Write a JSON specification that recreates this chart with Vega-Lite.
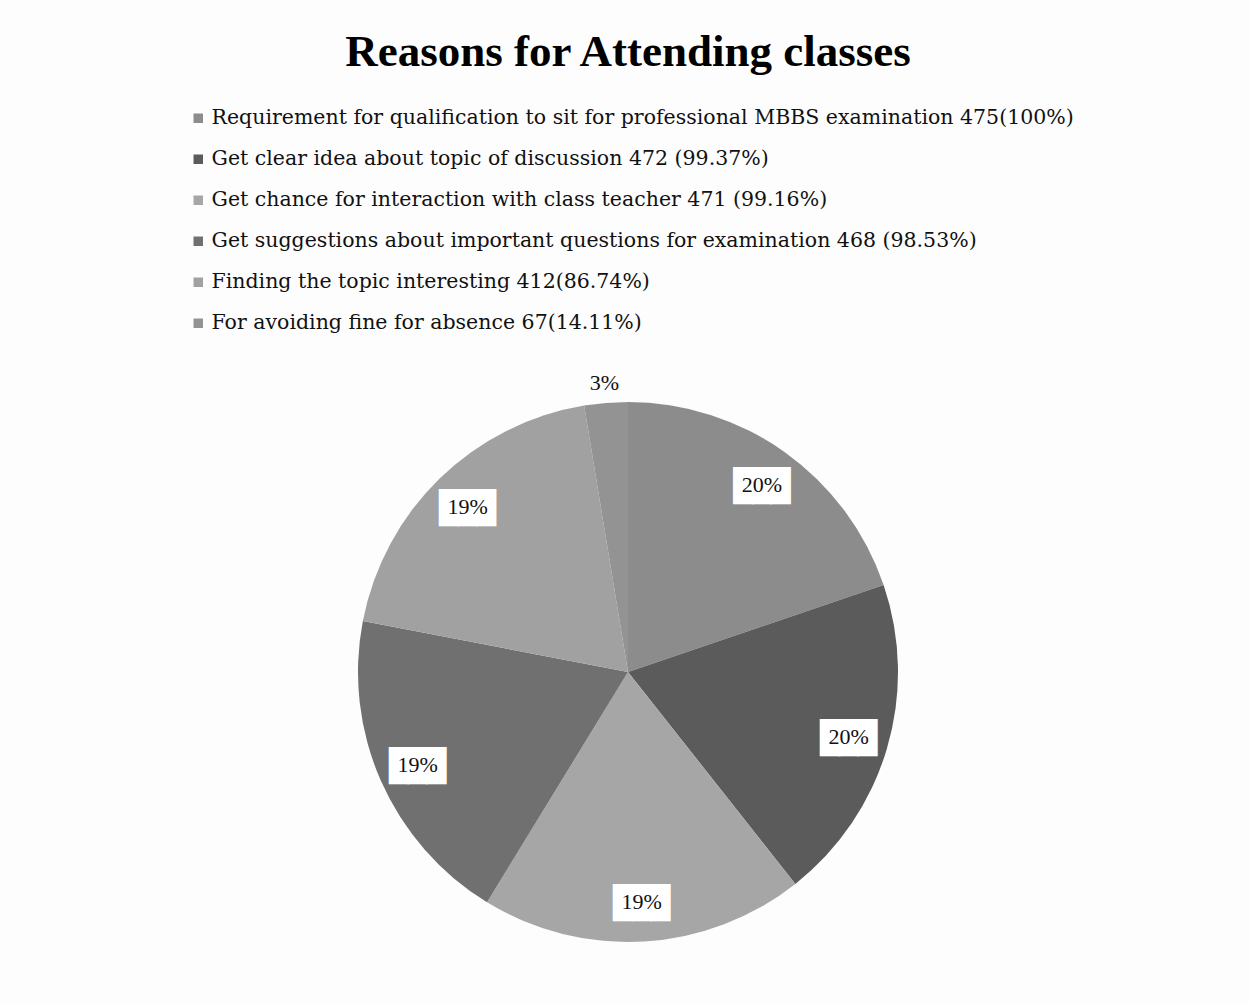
{
  "$schema": "https://vega.github.io/schema/vega-lite/v6.json",
  "width": 540,
  "height": 540,
  "autosize": {"type": "none"},
  "padding": {"left": 358, "top": 402, "right": 351, "bottom": 62},
  "background": "#fdfdfd",
  "config": {"view": {"stroke": null}},
  "title": {
    "text": "Reasons for Attending classes",
    "anchor": "middle",
    "frame": "group",
    "font": "Liberation Serif",
    "fontWeight": "bold",
    "fontSize": 45,
    "color": "#000000",
    "baseline": "alphabetic",
    "offset": -3
  },
  "data": {
    "values": [
      {"reason": "Requirement for qualification to sit for  professional MBBS examination 475(100%)", "count": 475, "share": 0.198, "rank": 1},
      {"reason": "Get clear idea about topic of discussion 472 (99.37%)", "count": 472, "share": 0.196, "rank": 2},
      {"reason": "Get chance  for interaction with class teacher 471 (99.16%)", "count": 471, "share": 0.194, "rank": 3},
      {"reason": "Get suggestions  about important questions for examination 468 (98.53%)", "count": 468, "share": 0.193, "rank": 4},
      {"reason": "Finding the topic interesting 412(86.74%)", "count": 412, "share": 0.194, "rank": 5},
      {"reason": "For avoiding fine for absence 67(14.11%)", "count": 67, "share": 0.026, "rank": 6}
    ]
  },
  "encoding": {
    "theta": {"field": "share", "type": "quantitative", "stack": true},
    "order": {"field": "rank", "type": "quantitative"}
  },
  "layer": [
    {
      "mark": {"type": "arc", "outerRadius": 270},
      "encoding": {
        "color": {
          "field": "reason",
          "type": "nominal",
          "scale": {
            "domain": [
              "Requirement for qualification to sit for  professional MBBS examination 475(100%)",
              "Get clear idea about topic of discussion 472 (99.37%)",
              "Get chance  for interaction with class teacher 471 (99.16%)",
              "Get suggestions  about important questions for examination 468 (98.53%)",
              "Finding the topic interesting 412(86.74%)",
              "For avoiding fine for absence 67(14.11%)"
            ],
            "range": ["#8c8c8c", "#5b5b5b", "#a6a6a6", "#707070", "#a1a1a1", "#939393"]
          },
          "legend": {
            "orient": "none",
            "legendX": -170,
            "legendY": -294,
            "title": null,
            "symbolType": "square",
            "symbolSize": 90,
            "symbolStrokeWidth": 0,
            "labelFont": "DejaVu Serif",
            "labelFontSize": 20.5,
            "labelColor": "#111111",
            "labelLimit": 1200,
            "labelOffset": 3,
            "rowPadding": 20,
            "padding": 0
          }
        }
      }
    },
    {
      "mark": {"type": "text", "text": "███", "font": "Liberation Mono", "fontSize": 31, "color": "#ffffff", "stroke": "#ffffff", "strokeWidth": 2, "baseline": "middle", "align": "center", "radius": 230},
      "encoding": {
        "opacity": {"condition": {"test": "datum.share < 0.05", "value": 0}, "value": 1}
      }
    },
    {
      "mark": {"type": "text", "font": "Liberation Serif", "fontSize": 22, "color": "#111111", "baseline": "middle", "align": "center", "radius": 230},
      "encoding": {
        "text": {"field": "share", "type": "quantitative", "format": ".0%"},
        "opacity": {"condition": {"test": "datum.share < 0.05", "value": 0}, "value": 1}
      }
    },
    {
      "mark": {"type": "text", "font": "Liberation Serif", "fontSize": 22, "color": "#111111", "baseline": "middle", "align": "center", "radius": 290},
      "encoding": {
        "text": {"field": "share", "type": "quantitative", "format": ".0%"},
        "opacity": {"condition": {"test": "datum.share < 0.05", "value": 1}, "value": 0}
      }
    }
  ]
}
